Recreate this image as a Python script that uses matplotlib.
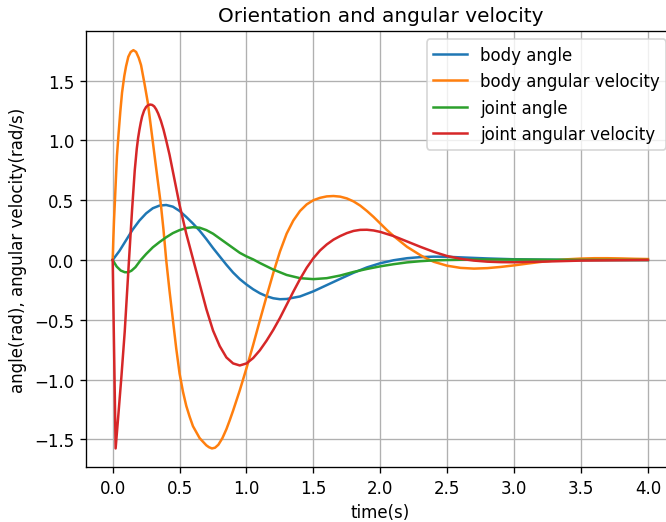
import matplotlib
matplotlib.use("Agg")
import matplotlib.pyplot as plt

# body angle
t_body = [0, 0.05, 0.1, 0.15, 0.2, 0.25, 0.3, 0.35, 0.4, 0.45, 0.5, 0.55, 0.6,
          0.65, 0.7, 0.75, 0.8, 0.85, 0.9, 0.95, 1.0, 1.05, 1.1, 1.15, 1.2,
          1.25, 1.3, 1.4, 1.5, 1.6, 1.7, 1.8, 1.9, 2.0, 2.1, 2.2, 2.3, 2.4,
          2.5, 2.6, 2.8, 3.0, 3.2, 3.5, 4.0]
body_angle = [0, 0.075, 0.165, 0.255, 0.33, 0.39, 0.433, 0.455, 0.46, 0.446,
              0.41, 0.36, 0.305, 0.245, 0.175, 0.1, 0.03, -0.04, -0.105,
              -0.16, -0.205, -0.245, -0.278, -0.303, -0.32, -0.328, -0.326,
              -0.305, -0.262, -0.21, -0.158, -0.107, -0.062, -0.027, -0.002,
              0.015, 0.024, 0.028, 0.027, 0.022, 0.013, 0.006, 0.003, 0.0, 0.0]

# body angular velocity
t_body_vel = [0, 0.005, 0.01, 0.017, 0.025, 0.032, 0.045, 0.057, 0.07, 0.087,
              0.1, 0.117, 0.135, 0.155, 0.175, 0.195, 0.212, 0.237, 0.262,
              0.285, 0.31, 0.335, 0.361, 0.38, 0.4, 0.425, 0.45, 0.475, 0.5,
              0.525, 0.55, 0.575, 0.6, 0.65, 0.7, 0.72, 0.742, 0.765, 0.79,
              0.82, 0.85, 0.875, 0.9, 0.95, 1.0, 1.05, 1.1, 1.15, 1.2, 1.25,
              1.3, 1.35, 1.4, 1.45, 1.5, 1.55, 1.6, 1.65, 1.7, 1.75, 1.8,
              1.85, 1.9, 1.95, 2.0, 2.05, 2.1, 2.15, 2.2, 2.25, 2.3, 2.35, 2.4,
              2.5, 2.6, 2.7, 2.8, 2.9, 3.0, 3.1, 3.2, 3.3, 3.4, 3.5, 3.6, 3.7,
              3.8, 3.9, 4.0]
body_vel = [0, 0.18, 0.33, 0.5, 0.7, 0.87, 1.07, 1.24, 1.4, 1.54, 1.62, 1.7,
            1.74, 1.755, 1.74, 1.69, 1.63, 1.48, 1.32, 1.12, 0.9, 0.68, 0.455,
            0.25, 0.0, -0.26, -0.5, -0.74, -0.95, -1.1, -1.22, -1.31, -1.39,
            -1.49, -1.55, -1.566, -1.576, -1.57, -1.545, -1.49, -1.415,
            -1.34, -1.26, -1.09, -0.905, -0.71, -0.505, -0.305, -0.11, 0.07,
            0.22, 0.33, 0.41, 0.465, 0.5, 0.52, 0.532, 0.535, 0.53, 0.515,
            0.49, 0.455, 0.41, 0.36, 0.305, 0.25, 0.2, 0.155, 0.11, 0.075,
            0.04, 0.01, -0.015, -0.048, -0.066, -0.072, -0.068, -0.058,
            -0.045, -0.03, -0.016, -0.004, 0.006, 0.012, 0.015, 0.015, 0.013,
            0.01, 0.008]

# joint angle
t_joint = [0, 0.03, 0.06, 0.09, 0.115, 0.14, 0.17, 0.21, 0.25, 0.3, 0.35, 0.4,
           0.45, 0.5, 0.55, 0.6, 0.65, 0.7, 0.75, 0.8, 0.85, 0.9, 0.95, 1.0,
           1.05, 1.1, 1.2, 1.3, 1.4, 1.5, 1.6, 1.7, 1.8, 1.9, 2.0, 2.1, 2.2,
           2.3, 2.4, 2.5, 2.7, 3.0, 3.5, 4.0]
joint_angle = [0, -0.055, -0.088, -0.102, -0.103, -0.09, -0.06, 0.0, 0.05,
               0.106, 0.15, 0.19, 0.225, 0.25, 0.267, 0.274, 0.27, 0.25, 0.22,
               0.18, 0.14, 0.1, 0.06, 0.03, 0.005, -0.025, -0.08, -0.125,
               -0.152, -0.16, -0.152, -0.13, -0.1, -0.075, -0.053, -0.035,
               -0.02, -0.01, -0.003, 0.0, 0.004, 0.004, 0.001, 0.0]

# joint angular velocity
t_joint_vel = [0, 0.022, 0.04, 0.065, 0.09, 0.122, 0.145, 0.165, 0.18, 0.19,
               0.2, 0.21, 0.22, 0.235, 0.25, 0.265, 0.28, 0.295, 0.31, 0.325,
               0.34, 0.36, 0.38, 0.4, 0.425, 0.45, 0.475, 0.5, 0.55, 0.6, 0.65,
               0.7, 0.75, 0.8, 0.85, 0.9, 0.95, 1.0, 1.05, 1.1, 1.15, 1.2,
               1.25, 1.3, 1.35, 1.4, 1.45, 1.5, 1.55, 1.6, 1.65, 1.7, 1.75,
               1.8, 1.85, 1.9, 1.95, 2.0, 2.1, 2.2, 2.3, 2.4, 2.5, 2.6, 2.7,
               2.8, 2.9, 3.0, 3.2, 3.5, 4.0]
joint_vel = [0, -1.576, -1.33, -0.98, -0.6, 0.0, 0.42, 0.75, 0.93, 1.02, 1.09,
             1.15, 1.2, 1.25, 1.28, 1.295, 1.3, 1.297, 1.285, 1.26, 1.225,
             1.165, 1.09, 1.0, 0.88, 0.74, 0.6, 0.46, 0.22, 0.01, -0.2, -0.41,
             -0.59, -0.72, -0.815, -0.865, -0.882, -0.865, -0.82, -0.755,
             -0.675, -0.585, -0.485, -0.375, -0.265, -0.16, -0.065, 0.015,
             0.08, 0.13, 0.17, 0.2, 0.225, 0.243, 0.252, 0.253, 0.247, 0.235,
             0.2, 0.155, 0.11, 0.068, 0.033, 0.01, -0.005, -0.014, -0.018,
             -0.019, -0.014, -0.005, 0.0]

fig = plt.figure(figsize=(5.55, 4.3583), dpi=120)
ax = fig.add_axes([0.129, 0.105, 0.884, 0.834])

ax.plot(t_body, body_angle, label="body angle")
ax.plot(t_body_vel, body_vel, label="body angular velocity")
ax.plot(t_joint, joint_angle, label="joint angle")
ax.plot(t_joint_vel, joint_vel, label="joint angular velocity")

ax.set_title("Orientation and angular velocity")
ax.set_xlabel("time(s)")
ax.set_ylabel("angle(rad), angular velocity(rad/s)")
ax.set_xlim(-0.2, 4.2)
ax.set_ylim(-1.732, 1.916)
ax.legend(loc="upper right")
ax.grid(True)

fig.savefig("out.png", dpi=120)
